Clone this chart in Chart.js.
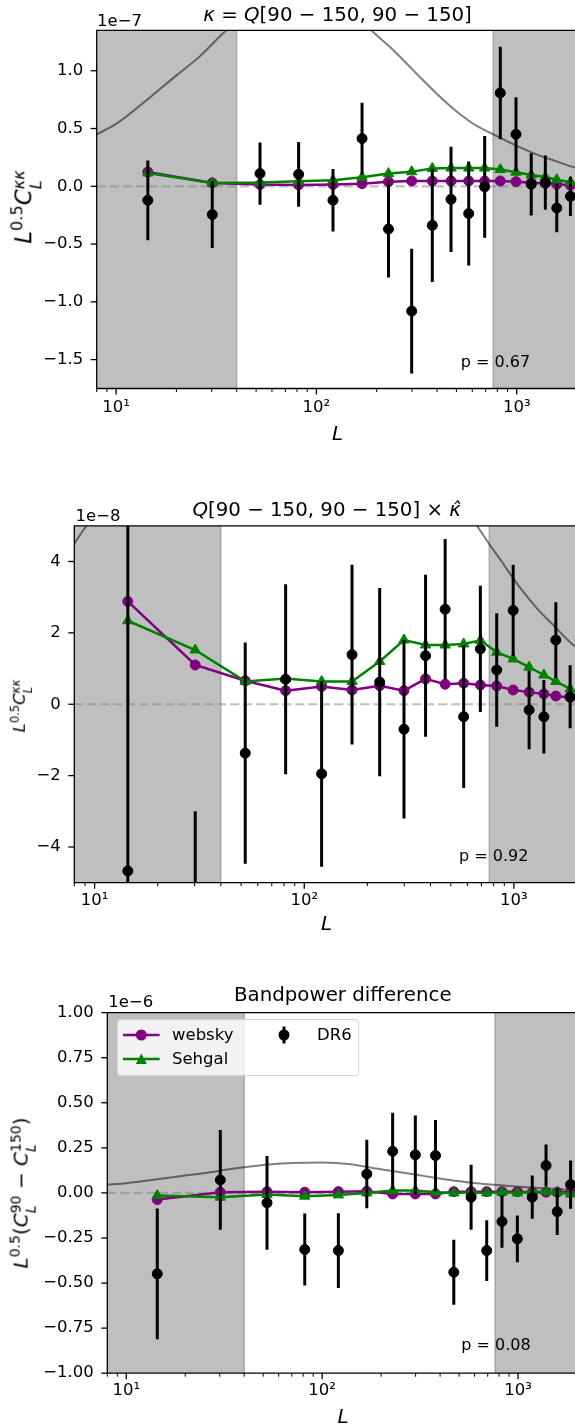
<!DOCTYPE html>
<html>
<head>
<meta charset="utf-8">
<script src="https://cdn.jsdelivr.net/npm/chart.js@4.4.1/dist/chart.umd.min.js"></script>
<style>
    html, body { margin: 0; padding: 0; background: #fff; overflow: hidden; }
    #fig { position: relative; width: 575px; height: 1427px; overflow: hidden;
           font-family: 'DejaVu Sans', sans-serif; color: #000; }
    #fig canvas { position: absolute; left: 0; }
    .txt { position: absolute; white-space: nowrap; line-height: 1; transform: translate(-50%, -50%); }
    .lft { position: absolute; white-space: nowrap; line-height: 1; transform: translate(0, -50%); }
    .ylab { position: absolute; white-space: nowrap; line-height: 1; transform: translate(-50%, -50%) rotate(-90deg); }
    .ss { display: inline-flex; flex-direction: column; font-size: 0.7em; line-height: 1.05; vertical-align: 0.45em; }
    sup.m { font-size: 0.7em; vertical-align: 0.55em; }
    #legend { position: absolute; left: 116.7px; top: 1019.3px; width: 240px; height: 55px;
              background: rgba(255,255,255,0.8); border: 1px solid rgba(204,204,204,0.8); border-radius: 4px; }
    #legend svg { position: absolute; left: 0; top: 0; }
    #legend span { position: absolute; font-size: 16.5px; line-height: 1; transform: translate(0, -50%); }
</style>
</head>
<body>
<div id="fig">
    <!-- panel 1 -->
    <div class="txt" style="left:337.5px; top:15px; font-size:19.8px;"><i>κ</i> = <i>Q</i>[90 − 150, 90 − 150]</div>
    <div class="lft" style="left:97px; top:20.5px; font-size:16.5px;">1e−7</div>
    <div class="ylab" style="left:27px; top:206.5px; font-size:23px;"><i>L</i><sup class="m">0.5</sup><i>C</i><span class="ss"><i>κκ</i><i>L</i></span></div>
    <div class="txt" style="left:337.5px; top:432.5px; font-size:20px;"><i>L</i></div>
    <div class="txt" style="left:495.5px; top:361.7px; font-size:16px;">p = 0.67</div>

    <!-- panel 2 -->
    <div class="txt" style="left:326.7px; top:510px; font-size:19.8px;"><i>Q</i>[90 − 150, 90 − 150] × <i>κ̂</i></div>
    <div class="lft" style="left:75.5px; top:515.5px; font-size:16.5px;">1e−8</div>
    <div class="ylab" style="left:21.7px; top:705.5px; font-size:16.5px;"><i>L</i><sup class="m">0.5</sup><i>C</i><span class="ss"><i>κκ</i><i>L</i></span></div>
    <div class="txt" style="left:326.7px; top:923px; font-size:20px;"><i>L</i></div>
    <div class="txt" style="left:493.8px; top:855.7px; font-size:16px;">p = 0.92</div>

    <!-- panel 3 -->
    <div class="txt" style="left:342.8px; top:995px; font-size:19.8px;">Bandpower difference</div>
    <div class="lft" style="left:108.3px; top:1002px; font-size:16.5px;">1e−6</div>
    <div class="ylab" style="left:23px; top:1192.5px; font-size:20px;"><i>L</i><sup class="m">0.5</sup>(<i>C</i><span class="ss"><span>90</span><i>L</i></span> − <i>C</i><span class="ss"><span>150</span><i>L</i></span>)</div>
    <div class="txt" style="left:343px; top:1416px; font-size:20px;"><i>L</i></div>
    <div class="txt" style="left:496px; top:1345px; font-size:16px;">p = 0.08</div>

    <div id="legend">
        <svg width="240" height="55">
            <line x1="5" y1="15" x2="41.6" y2="15" stroke="#800080" stroke-width="2.5"/>
            <circle cx="23.3" cy="15" r="5.5" fill="#800080"/>
            <line x1="5" y1="39" x2="41.6" y2="39" stroke="#008000" stroke-width="2.5"/>
            <polygon points="23.3,33.5 17.8,44 28.8,44" fill="#008000"/>
            <line x1="166" y1="6.5" x2="166" y2="23.5" stroke="#000" stroke-width="3"/>
            <circle cx="166" cy="15" r="5.5" fill="#000"/>
        </svg>
        <span style="left:54.3px; top:15px;">websky</span>
        <span style="left:54.3px; top:39px;">Sehgal</span>
        <span style="left:199.3px; top:15px;">DR6</span>
    </div>
</div>

<script>
// Bandpower centres (multipole L)
const ells = [14.4, 30.2, 52.3, 81.5, 121, 169, 229, 299, 379, 470, 576, 692, 828, 992, 1182, 1390, 1585, 1855];

// Panel 1: kappa auto spectrum, units of 1e-7
const dr6Auto = [-0.121, -0.245, 0.110, 0.104, -0.121, 0.413, -0.37, -1.08, -0.338, -0.113, -0.236, -0.005, 0.808, 0.45, 0.017, 0.032, -0.188, -0.087];
const dr6AutoErr = [0.345, 0.29, 0.27, 0.28, 0.27, 0.31, 0.42, 0.54, 0.49, 0.455, 0.45, 0.44, 0.40, 0.32, 0.27, 0.235, 0.21, 0.17];
const webskyAuto = [0.124, 0.029, 0.015, 0.012, 0.015, 0.023, 0.040, 0.046, 0.046, 0.046, 0.046, 0.046, 0.046, 0.040, 0.030, 0.025, 0.017, 0.010];
const sehgalAuto = [0.115, 0.029, 0.032, 0.043, 0.052, 0.078, 0.110, 0.126, 0.155, 0.158, 0.158, 0.158, 0.145, 0.122, 0.098, 0.081, 0.057, 0.035];

// Panel 2: cross with kappa-hat, units of 1e-8
const dr6Cross = [-4.67, -9.0, -1.37, 0.70, -1.95, 1.39, 0.62, -0.70, 1.36, 2.66, -0.35, 1.55, 0.96, 2.63, -0.16, -0.35, 1.80, 0.21];
const dr6CrossErr = [10.0, 6.0, 3.1, 2.66, 2.6, 2.52, 2.64, 2.5, 2.27, 1.97, 2.0, 1.77, 1.59, 1.28, 1.1, 1.03, 1.06, 0.88];
const webskyCross = [2.88, 1.10, 0.66, 0.38, 0.50, 0.40, 0.52, 0.38, 0.71, 0.56, 0.59, 0.54, 0.51, 0.40, 0.34, 0.29, 0.23, 0.19];
const sehgalCross = [2.34, 1.52, 0.64, 0.72, 0.64, 0.64, 1.20, 1.80, 1.66, 1.66, 1.69, 1.79, 1.46, 1.27, 1.04, 0.82, 0.64, 0.43];

// Panel 3: bandpower difference 90 - 150, units of 1e-6
const dr6Diff = [-0.449, 0.072, -0.055, -0.314, -0.32, 0.105, 0.231, 0.211, 0.207, -0.44, -0.024, -0.32, -0.159, -0.255, -0.024, 0.152, -0.104, 0.046];
const dr6DiffErr = [0.363, 0.277, 0.26, 0.2, 0.207, 0.19, 0.213, 0.218, 0.198, 0.18, 0.18, 0.168, 0.145, 0.13, 0.12, 0.116, 0.13, 0.134];
const webskyDiff = [-0.037, 0.004, 0.007, 0.004, 0.007, 0.009, -0.006, -0.006, -0.006, 0.007, 0.007, 0.007, 0.007, 0.007, 0.004, 0.004, 0.004, 0.004];
const sehgalDiff = [-0.015, -0.024, -0.009, -0.018, -0.011, 0.0, 0.013, 0.013, 0.004, 0.0, 0.004, 0.0, 0.004, 0.0, 0.007, 0.007, 0.004, -0.006];

// Reference theory curve (grey), units of 1e-8
const theoryL = [8, 10, 15, 20, 26, 35, 50, 70, 100, 140, 188, 228, 276, 335, 405, 491, 596, 721, 874, 1059, 1282, 1554, 1884, 2000];
const theoryVal = [4.5, 5.4, 7.8, 9.6, 11.2, 13.4, 15.5, 16.6, 16.9, 15.9, 13.5, 12.2, 10.8, 9.3, 7.9, 6.6, 5.5, 4.7, 4.0, 3.3, 2.7, 2.2, 1.7, 1.6];

// Excluded L ranges (grey bands)
const shadeBands = [[8, 40], [763, 2000]];

// Axis ticks
const xTickVals = [8, 9, 10, 20, 30, 40, 50, 60, 70, 80, 90, 100, 200, 300, 400, 500, 600, 700, 800, 900, 1000, 2000];
const xTickLabels = { 10: '10¹', 100: '10²', 1000: '10³' };
const yTicksAuto = [-1.5, -1.0, -0.5, 0.0, 0.5, 1.0];
const yTicksCross = [-4, -2, 0, 2, 4];
const yTicksDiff = [-1.0, -0.75, -0.5, -0.25, 0.0, 0.25, 0.5, 0.75, 1.0];

const FONT = 'DejaVu Sans';
Chart.defaults.font.family = FONT;

const pts = (xs, ys, k = 1) => xs.map((x, i) => ({ x: x, y: ys[i] * k }));

// shading, zero line, error bars, frame and tick marks
const axesDecor = {
    id: 'axesDecor',
    beforeDatasetsDraw(chart) {
        const { ctx, chartArea: a, scales: { x, y } } = chart;
        ctx.save();
        ctx.beginPath();
        ctx.rect(a.left, a.top, a.right - a.left, a.bottom - a.top);
        ctx.clip();
        ctx.fillStyle = 'rgba(128,128,128,0.5)';
        shadeBands.forEach(([lo, hi]) => {
            const x0 = x.getPixelForValue(lo), x1 = x.getPixelForValue(hi);
            ctx.fillRect(x0, a.top, x1 - x0, a.bottom - a.top);
        });
        ctx.strokeStyle = 'rgba(128,128,128,0.5)';
        ctx.lineWidth = 1.6;
        [shadeBands[0][1], shadeBands[1][0]].forEach(v => {
            const px = x.getPixelForValue(v);
            ctx.beginPath(); ctx.moveTo(px, a.top); ctx.lineTo(px, a.bottom); ctx.stroke();
        });
        // zero line
        const y0 = y.getPixelForValue(0);
        ctx.setLineDash([9, 4]);
        ctx.lineWidth = 2.2;
        ctx.beginPath(); ctx.moveTo(a.left, y0); ctx.lineTo(a.right, y0); ctx.stroke();
        ctx.restore();
    },
    beforeDatasetDraw(chart, args) {
        const ds = chart.data.datasets[args.index];
        if (!ds.errorBars) return;
        const { ctx, chartArea: a, scales: { x, y } } = chart;
        ctx.save();
        ctx.beginPath();
        ctx.rect(a.left, a.top, a.right - a.left, a.bottom - a.top);
        ctx.clip();
        ctx.strokeStyle = '#000';
        ctx.lineWidth = 3;
        ds.data.forEach((p, i) => {
            const e = ds.errorBars[i];
            const px = x.getPixelForValue(p.x);
            ctx.beginPath();
            ctx.moveTo(px, y.getPixelForValue(p.y - e));
            ctx.lineTo(px, y.getPixelForValue(p.y + e));
            ctx.stroke();
        });
        ctx.restore();
    },
    afterDraw(chart) {
        const { ctx, chartArea: a, scales: { x, y } } = chart;
        ctx.save();
        ctx.strokeStyle = '#000';
        ctx.lineWidth = 1.3;
        ctx.beginPath();
        ctx.moveTo(a.right + 2, a.top); ctx.lineTo(a.left, a.top);
        ctx.lineTo(a.left, a.bottom); ctx.lineTo(a.right + 2, a.bottom);
        ctx.stroke();
        y.ticks.forEach(t => {
            const py = y.getPixelForValue(t.value);
            ctx.beginPath(); ctx.moveTo(a.left - 6, py); ctx.lineTo(a.left, py); ctx.stroke();
        });
        xTickVals.forEach(v => {
            const px = x.getPixelForValue(v);
            const major = xTickLabels[v] !== undefined;
            ctx.lineWidth = major ? 1.3 : 1;
            ctx.beginPath(); ctx.moveTo(px, a.bottom); ctx.lineTo(px, a.bottom + (major ? 6 : 3.5)); ctx.stroke();
        });
        ctx.restore();
    }
};

function makePanel(p) {
    // Chart.js reserves (half label + tick padding) above the top y tick and
    // (tick padding) right of the last x tick; leave room for both.
    const padTop = 26, padBottom = 34;
    const plotH = p.bottom - p.top;
    const canvasTop = Math.floor(p.top) - padTop;
    const lead = p.top - canvasTop;
    const canvasH = Math.ceil(lead + plotH + padBottom);
    const xAxisH = canvasH - lead - plotH;
    const canvasW = 577 + p.xPad;

    const cv = document.createElement('canvas');
    cv.width = canvasW;
    cv.height = canvasH;
    cv.style.top = canvasTop + 'px';
    cv.style.width = canvasW + 'px';
    cv.style.height = canvasH + 'px';
    document.getElementById('fig').insertBefore(cv, document.getElementById('fig').firstChild);

    new Chart(cv.getContext('2d'), {
        type: 'line',
        data: {
            datasets: [
                {
                    label: 'DR6', data: pts(ells, p.dr6), errorBars: p.err, showLine: false,
                    pointRadius: 5, pointBorderWidth: 1, pointBackgroundColor: '#000', pointBorderColor: '#000',
                    order: 0, clip: 0
                },
                {
                    label: 'Sehgal', data: pts(ells, p.sehgal), borderColor: '#008000', borderWidth: 2.5,
                    pointStyle: 'triangle', pointRadius: 6, pointBorderWidth: 1,
                    pointBackgroundColor: '#008000', pointBorderColor: '#008000', order: 1, clip: 0
                },
                {
                    label: 'websky', data: pts(ells, p.websky), borderColor: '#800080', borderWidth: 2.5,
                    pointRadius: 5, pointBorderWidth: 1,
                    pointBackgroundColor: '#800080', pointBorderColor: '#800080', order: 2, clip: 0
                },
                {
                    label: 'theory', data: pts(theoryL, theoryVal, p.theoryScale), borderColor: 'rgba(0,0,0,0.5)',
                    borderWidth: 2, pointRadius: 0, cubicInterpolationMode: 'monotone', order: 3, clip: 0
                }
            ]
        },
        options: {
            responsive: false,
            animation: false,
            devicePixelRatio: 1,
            events: [],
            layout: { autoPadding: false, padding: { top: lead, right: 0, bottom: 0, left: 0 } },
            plugins: { legend: { display: false }, tooltip: { enabled: false }, title: { display: false } },
            scales: {
                x: {
                    type: 'logarithmic', min: 8, max: 2000,
                    afterFit: s => { s.height = xAxisH; },
                    afterBuildTicks: s => { s.ticks = xTickVals.map(v => ({ value: v })); },
                    grid: { display: false, drawTicks: false },
                    border: { display: false },
                    ticks: {
                        autoSkip: false, maxRotation: 0, minRotation: 0, padding: p.xPad,
                        color: '#000', font: { family: FONT, size: 16.5 },
                        callback: v => xTickLabels[v] || ''
                    }
                },
                y: {
                    type: 'linear', min: p.ymin, max: p.ymax,
                    afterFit: s => { s.width = p.left; },
                    afterBuildTicks: s => { s.ticks = p.yTicks.map(v => ({ value: v })); },
                    grid: { display: false, drawTicks: false },
                    border: { display: false },
                    ticks: {
                        padding: 13.5, color: '#000', font: { family: FONT, size: 16.5 },
                        callback: v => v.toFixed(p.dec).replace('-', '−')
                    }
                }
            }
        },
        plugins: [axesDecor]
    });
}

const panels = [
    { left: 96.7, top: 30.3, bottom: 388.5, ymin: -1.75, ymax: 1.35, yTicks: yTicksAuto, dec: 1, xPad: 9,
      dr6: dr6Auto, err: dr6AutoErr, websky: webskyAuto, sehgal: sehgalAuto, theoryScale: 0.1 },
    { left: 74.3, top: 525.8, bottom: 882.7, ymin: -5, ymax: 5, yTicks: yTicksCross, dec: 0, xPad: 8,
      dr6: dr6Cross, err: dr6CrossErr, websky: webskyCross, sehgal: sehgalCross, theoryScale: 1 },
    { left: 107.3, top: 1012.6, bottom: 1373.2, ymin: -1, ymax: 1, yTicks: yTicksDiff, dec: 2, xPad: 8,
      dr6: dr6Diff, err: dr6DiffErr, websky: webskyDiff, sehgal: sehgalDiff, theoryScale: 0.01 }
];
panels.forEach(makePanel);
</script>
</body>
</html>
